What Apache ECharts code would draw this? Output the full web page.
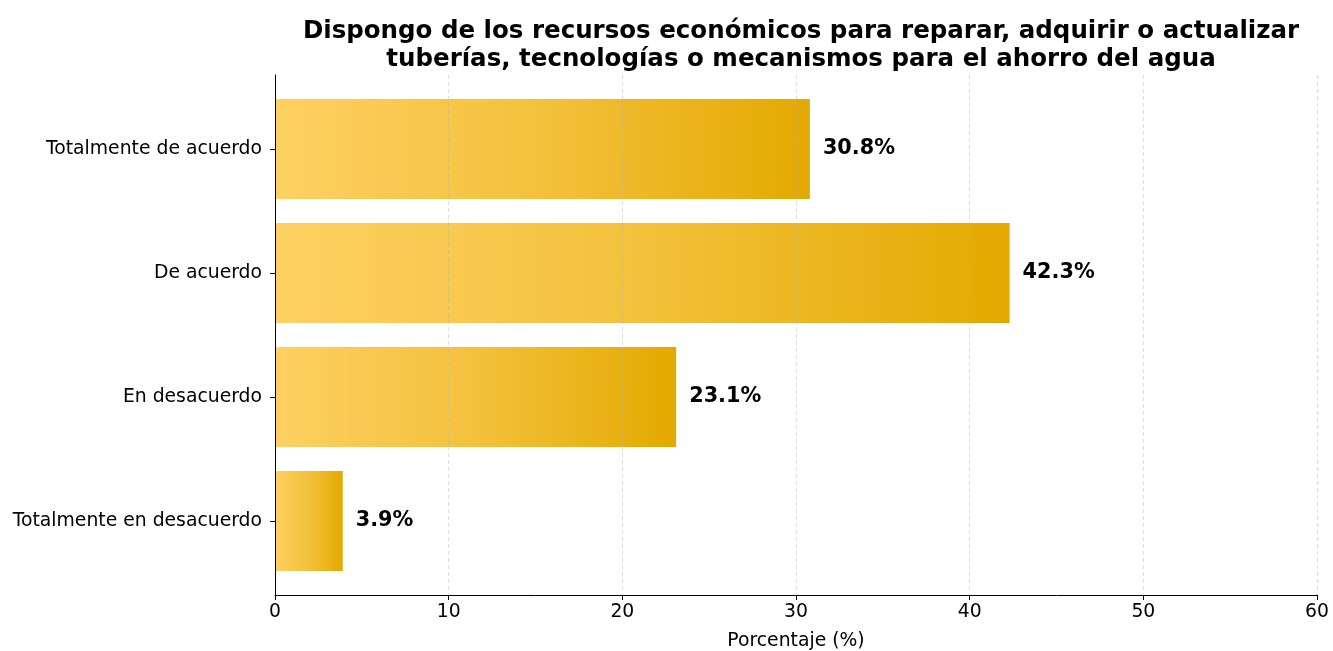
<!DOCTYPE html>
<html>
<head>
<meta charset="utf-8">
<script src="https://cdn.jsdelivr.net/npm/echarts@6/dist/echarts.min.js"></script>
<style>
  html, body { margin: 0; padding: 0; background: #fff; }
  #main { width: 1333px; height: 651px; }
</style>
</head>
<body>
<div id="main"></div>
<script>
// datos
var categorias = ['Totalmente de acuerdo', 'De acuerdo', 'En desacuerdo', 'Totalmente en desacuerdo'];
var porcentajes = [30.8, 42.3, 23.1, 3.9];
var ticksX = [0, 10, 20, 30, 40, 50, 60];

var myChart = echarts.init(document.getElementById('main'));
var fuente = '"DejaVu Sans", sans-serif';

var option = {
  backgroundColor: '#fff',
  animation: false,
  title: {
    text: 'Dispongo de los recursos económicos para reparar, adquirir o actualizar\ntuberías, tecnologías o mecanismos para el ahorro del agua',
    left: 796,
    textAlign: 'center',
    top: 13,
    textStyle: {
      fontFamily: fuente,
      fontWeight: 'bold',
      fontSize: 24.5,
      lineHeight: 28,
      color: '#000'
    }
  },
  // grid 0: marco (ejes, rejilla); grid 1: barras por categoria
  grid: [
    { left: 275, right: 16, top: 75, bottom: 56, outerBoundsMode: 'none' },
    { left: 275, right: 16, top: 87, bottom: 68, outerBoundsMode: 'none' }
  ],
  xAxis: [{
    type: 'value',
    gridIndex: 0,
    min: ticksX[0],
    max: ticksX[ticksX.length - 1],
    interval: 10,
    z: 3,
    name: 'Porcentaje (%)',
    nameLocation: 'middle',
    nameGap: 37,
    nameTextStyle: { fontFamily: fuente, fontSize: 18.8, color: '#000' },
    axisLine: { show: true, lineStyle: { color: '#000', width: 1 } },
    axisTick: { show: true, length: 5, lineStyle: { color: '#000' } },
    axisLabel: { fontFamily: fuente, fontSize: 18.8, color: '#000', margin: 8 },
    splitLine: {
      show: true,
      lineStyle: { color: 'rgba(180,180,180,0.45)', type: [4, 3], width: 1 }
    }
  }, {
    type: 'value',
    gridIndex: 1,
    min: ticksX[0],
    max: ticksX[ticksX.length - 1],
    interval: 10,
    show: false
  }],
  yAxis: [{
    type: 'value',
    gridIndex: 0,
    min: 0,
    max: 1,
    z: 3,
    axisLine: { show: true, lineStyle: { color: '#000', width: 1 } },
    axisTick: { show: false },
    axisLabel: { show: false },
    splitLine: { show: false }
  }, {
    type: 'category',
    gridIndex: 1,
    inverse: true,
    z: 3,
    data: categorias,
    axisLine: { show: true, lineStyle: { color: '#000', width: 1 } },
    axisTick: { show: true, alignWithLabel: true, length: 5, lineStyle: { color: '#000' } },
    axisLabel: { fontFamily: fuente, fontSize: 18.8, color: '#000', margin: 13 },
    splitLine: { show: false }
  }],
  series: [{
    type: 'bar',
    xAxisIndex: 1,
    yAxisIndex: 1,
    barWidth: 100,
    data: porcentajes,
    itemStyle: {
      color: new echarts.graphic.LinearGradient(0, 0, 1, 0, [
        { offset: 0, color: '#FDD062' },
        { offset: 0.5, color: '#F3C13B' },
        { offset: 1, color: '#E4A900' }
      ])
    },
    label: {
      show: true,
      position: 'right',
      distance: 13,
      fontFamily: fuente,
      fontWeight: 'bold',
      fontSize: 20.8,
      color: '#000',
      formatter: function (p) { return p.value.toFixed(1) + '%'; }
    }
  }]
};

myChart.setOption(option);
window.addEventListener('resize', function () {
  myChart.resize();
});
</script>
</body>
</html>
